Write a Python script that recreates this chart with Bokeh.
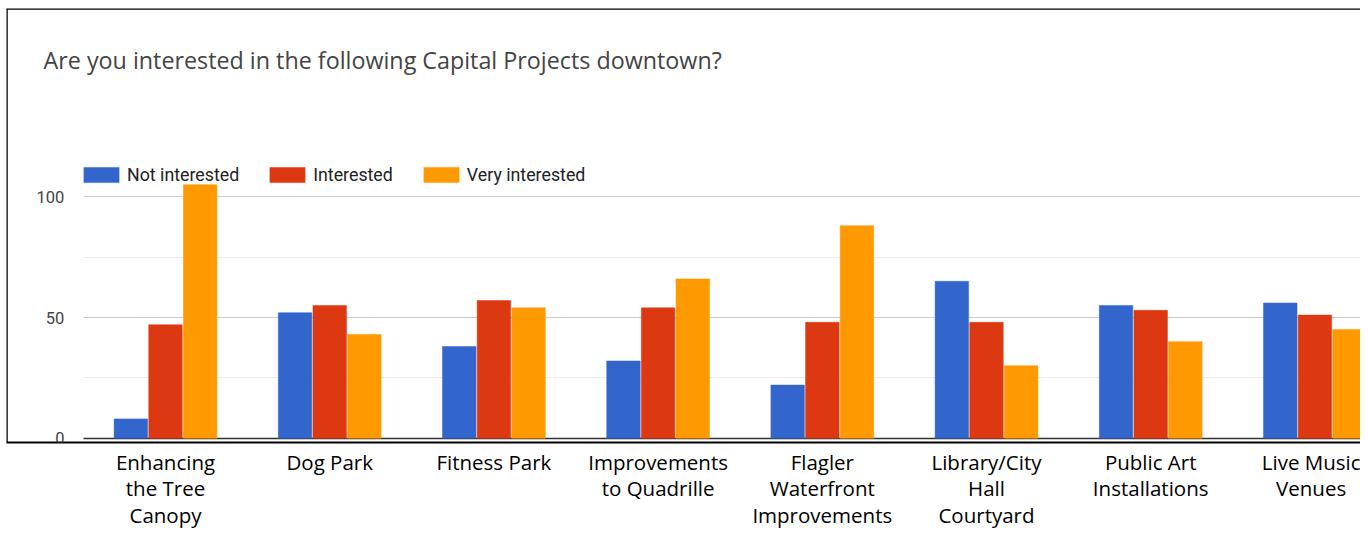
from bokeh.plotting import figure
from bokeh.models import (Range1d, LinearAxis, Grid, FixedTicker, Span, Label,
                          ColumnDataSource)
from bokeh.transform import dodge
from bokeh.embed import file_html
from bokeh.resources import INLINE

# ---------------- data ----------------
categories = ["Enhancing the Tree Canopy", "Dog Park", "Fitness Park",
              "Improvements to Quadrille", "Flagler Waterfront Improvements",
              "Library/City Hall Courtyard", "Public Art Installations",
              "Live Music Venues"]
category_labels = ["Enhancing\nthe Tree\nCanopy", "Dog Park", "Fitness Park",
                   "Improvements\nto Quadrille", "Flagler\nWaterfront\nImprovements",
                   "Library/City\nHall\nCourtyard", "Public Art\nInstallations",
                   "Live Music\nVenues"]
not_interested = [8, 52, 38, 32, 22, 65, 55, 56]
interested = [47, 55, 57, 54, 48, 48, 53, 51]
very_interested = [105, 43, 54, 66, 88, 30, 40, 45]
series_names = ["Not interested", "Interested", "Very interested"]
series_colors = ["#3366CC", "#DC3912", "#FF9900"]
y_ticks = [0, 50, 100]
y_minor_ticks = [25, 75]
title_text = "Are you interested in the following Capital Projects downtown?"

# ---------------- layout constants ----------------
FIG_W = 1360
LEFT_PAD = 6
TOP_PAD = 8
FRAME_W = FIG_W - LEFT_PAD
FRAME_H = 434
PX_PER_CAT = 164.2
PX_PER_UNIT = 2.414
X0_PX = 76.9      # screen distance from frame left to category axis origin
Y0_PX = 4.3       # screen distance from frame bottom to value 0

x_start = -X0_PX / PX_PER_CAT
x_end = x_start + FRAME_W / PX_PER_CAT
y_start = -Y0_PX / PX_PER_UNIT
y_end = y_start + FRAME_H / PX_PER_UNIT

xs = [i + 0.5 for i in range(len(categories))]
src = ColumnDataSource(dict(x=xs, cat=categories, ni=not_interested,
                            i=interested, vi=very_interested))

p = figure(frame_width=FRAME_W, frame_height=FRAME_H,
           x_range=Range1d(x_start, x_end), y_range=Range1d(y_start, y_end),
           x_axis_location=None, y_axis_location=None,
           output_backend="svg", toolbar_location=None,
           min_border=0, min_border_left=LEFT_PAD, min_border_right=0,
           min_border_top=TOP_PAD, min_border_bottom=0)
p.outline_line_color = None
p.background_fill_color = "white"
p.border_fill_color = "white"
for g in p.grid:
    g.visible = False

# grid lines
def _bounded(grid):
    try:
        grid.cross_bounds = (0, x_end)
    except Exception:
        pass
    return grid

g_major = _bounded(Grid(dimension=1, ticker=FixedTicker(ticks=[50, 100], minor_ticks=y_minor_ticks),
                        grid_line_color="#cccccc", grid_line_width=1.2,
                        minor_grid_line_color="#ebebeb", minor_grid_line_width=1.2))
g_base = _bounded(Grid(dimension=1, ticker=FixedTicker(ticks=[0]),
                       grid_line_color="#333333", grid_line_width=1.6))
p.add_layout(g_major)
p.add_layout(g_base)

# bars
width = 0.204
offsets = [-0.211, 0.0, 0.211]
fields = ["ni", "i", "vi"]
for f, off, name, col in zip(fields, offsets, series_names, series_colors):
    p.vbar(x=dodge("x", off, range=p.x_range), top=f, bottom=0, width=width,
           source=src, fill_color=col, line_color=col, line_width=0.5,
           legend_label=name)

# y axis placed inside the frame at the category origin
yax = LinearAxis(fixed_location=0, ticker=FixedTicker(ticks=y_ticks))
yax.axis_line_color = None
yax.major_tick_line_color = None
yax.minor_tick_line_color = None
yax.major_label_standoff = 13
yax.major_label_text_font = "Roboto"
yax.major_label_text_font_size = "16.5px"
yax.major_label_text_color = "#444444"
p.add_layout(yax, "left")

# x axis with category labels below the box
xax = LinearAxis(ticker=FixedTicker(ticks=xs))
xax.major_label_overrides = {x: lab for x, lab in zip(xs, category_labels)}
xax.axis_line_color = "black"
xax.axis_line_width = 2
xax.major_tick_line_color = None
xax.minor_tick_line_color = None
xax.major_tick_out = 0
xax.major_tick_in = 0
xax.major_label_standoff = 5
xax.major_label_text_font = "Open Sans"
xax.major_label_text_font_size = "20.5px"
xax.major_label_text_color = "black"
xax.major_label_text_line_height = 0.96
p.add_layout(xax, "below")

# box borders (left, top)
p.add_layout(Span(location=x_start, dimension="height", line_color="black", line_width=2.5))
p.add_layout(Span(location=y_end, dimension="width", line_color="black", line_width=2.5))

# title
p.add_layout(Label(x=37, y=382.7, x_units="screen", y_units="screen", text=title_text,
                   text_font="Open Sans", text_font_size="23.3px",
                   text_color="#444444", text_baseline="alphabetic"))

# legend
lg = p.legend[0]
lg.location = (73, 257)
lg.orientation = "horizontal"
lg.glyph_width = 44
lg.glyph_height = 19
lg.label_standoff = 4
lg.spacing = 26
lg.padding = 0
lg.margin = 0
lg.border_line_color = None
lg.background_fill_alpha = 0
lg.label_text_font = "Roboto"
lg.label_text_font_size = "17.8px"
lg.label_text_color = "#222222"

open("out.html", "w").write(file_html(p, INLINE))
